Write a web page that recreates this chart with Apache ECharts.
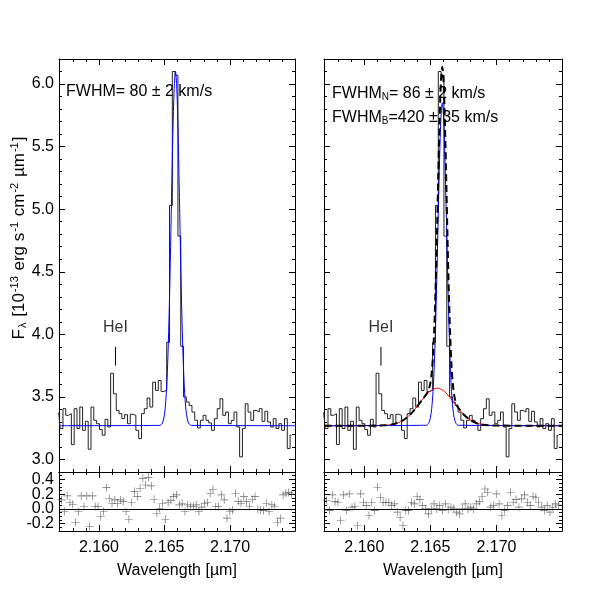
<!DOCTYPE html>
<html><head><meta charset="utf-8">
<script src="https://cdn.jsdelivr.net/npm/echarts@6/dist/echarts.min.js"></script>
<style>html,body{margin:0;padding:0;background:#fff}#c{width:591px;height:591px}</style>
</head><body><div id="c"></div>
<script>
// ---- data ----
const binStart = 2.15661;   // left edge of first spectral bin (µm)
const binStep = 0.000214;   // bin width (µm)
const flux = [3.385,3.371,3.247,3.406,3.353,3.366,3.119,3.406,3.247,3.419,3.233,3.305,3.082,3.419,3.313,3.286,3.239,3.194,3.321,3.260,3.689,
 3.525,3.392,3.366,3.326,3.358,3.286,3.361,3.353,3.233,3.167,3.366,3.406,3.491,3.419,3.618,3.552,3.631,3.544,3.552,3.936,
 5.03,6.10,6.07,4.785,3.905,3.50,
 3.459,3.432,3.379,3.313,3.252,3.313,3.353,3.313,3.292,3.233,3.326,3.406,3.485,3.353,3.379,3.286,3.313,3.379,3.260,3.021,3.247,3.445,3.379,3.313,3.392,3.379,3.406,3.305,3.385,3.300,3.260,3.326,3.247,3.286,3.233,3.326,3.088,3.194];
const residLeft = [0.10,0.112,0.122,-0.036,0.176,0.086,0.063,-0.185,-0.036,0.176,0.032,0.176,-0.239,0.176,0.032,0.032,-0.104,-0.036,0.288,0.144,0.077,0.122,0.077,0.122,0.099,-0.036,-0.14,0.086,0.234,0.167,0.279,0.414,0.324,0.428,0.311,0.131,-0.059,0.009,0.077,-0.14,0.086,0.112,0.167,0.189,0.054,0.077,-0.036,0.054,0.032,0.032,0.054,-0.036,0.023,0.077,0.086,0.212,0.266,0.032,0.032,0.189,0.122,-0.126,-0.036,-0.014,0.212,0.099,0.077,0.167,0.099,0.032,0.131,0.167,-0.005,-0.014,-0.023,0.077,-0.036,0.054,0.032,-0.185,-0.126,0.189,0.212,0.221,0.20];
const residRight = [0.12,0.135,0.113,-0.023,0.189,0.099,0.09,-0.158,0.189,-0.023,0.203,0.023,0.036,-0.225,0.203,0.09,0.045,-0.09,0.09,-0.023,0.293,0.158,0.09,0.09,0.09,0.045,0.068,-0.045,-0.113,-0.225,-0.023,-0.023,0.09,0.068,0.171,0.126,0.045,0,-0.068,0,0.068,0,0.045,-0.023,0.068,-0.009,0.023,0.009,-0.045,-0.068,0.009,0.068,0,0.023,0,0.068,0.099,0.171,0.27,0.225,0.023,0.045,0.203,0.068,-0.09,-0.023,0.045,0.225,0.09,0.126,0.023,0.135,0.189,0.09,0.045,0.171,0.158,0.09,0.023,-0.023,0.045,-0.045,0.023,0.068,0.05];
// fit curves (sampled)
const blueLeftX = [2.157,2.16464,2.16474,2.16484,2.16494,2.16504,2.16514,2.16524,2.16534,2.16544,2.16554,2.16564,2.16574,2.16584,2.16594,2.16604,2.16614,2.16624,2.16634,2.16644,2.16654,2.16664,2.16674,2.16684,2.16694,2.16704,2.175];
const blueLeftY = [3.27,3.2725,3.278,3.291,3.324,3.394,3.529,3.758,4.105,4.566,5.094,5.598,5.965,6.10,5.965,5.598,5.094,4.566,4.105,3.758,3.529,3.394,3.324,3.291,3.278,3.2725,3.27];
const blueRightX = [2.157,2.1647,2.1648,2.1649,2.1650,2.1651,2.1652,2.1653,2.1654,2.1655,2.1656,2.1657,2.1658,2.1659,2.1660,2.1661,2.1662,2.1663,2.1664,2.1665,2.1666,2.1667,2.1668,2.1669,2.1670,2.1671,2.175];
const blueRightY = [3.27,3.2735,3.280,3.296,3.333,3.407,3.542,3.764,4.089,4.508,4.977,5.417,5.734,5.85,5.734,5.417,4.977,4.508,4.089,3.764,3.542,3.407,3.333,3.296,3.280,3.2735,3.27];
const redX = [2.157,2.1610,2.1615,2.1620,2.1625,2.1630,2.1635,2.1640,2.1645,2.1650,2.1655,2.1660,2.1665,2.1670,2.1675,2.1680,2.1685,2.1690,2.1695,2.1700,2.175];
const redY = [3.27,3.2708,3.2726,3.278,3.2909,3.3172,3.3619,3.4242,3.4932,3.5486,3.57,3.5486,3.4932,3.4242,3.3619,3.3172,3.2909,3.278,3.2726,3.2708,3.27];
const totalX = [2.157,2.1610,2.1615,2.1620,2.1625,2.1630,2.1635,2.1640,2.1645,2.1647,2.1648,2.1649,2.1650,2.1651,2.1652,2.1653,2.1654,2.1655,2.1656,2.1657,2.1658,2.1659,2.1660,2.1661,2.1662,2.1663,2.1664,2.1665,2.1666,2.1667,2.1668,2.1669,2.1670,2.1671,2.1675,2.1680,2.1685,2.1690,2.1695,2.1700,2.175];
const totalY = [3.27,3.2708,3.2726,3.278,3.2909,3.3172,3.3619,3.4242,3.4932,3.5218,3.5395,3.5658,3.6112,3.6926,3.8341,4.0605,4.3881,4.808,5.276,5.7135,6.026,6.136,6.0126,5.6867,5.2365,4.7563,4.3251,3.9872,3.7517,3.6024,3.5146,3.4641,3.4342,3.4142,3.3619,3.3172,3.2909,3.278,3.2726,3.2708,3.27];
const xMajor = [2.160,2.165,2.170];
const xMinor = [2.157,2.158,2.159,2.161,2.162,2.163,2.164,2.166,2.167,2.168,2.169,2.171,2.172,2.173,2.174];
const yMajor = [3.0,3.5,4.0,4.5,5.0,5.5,6.0];
const yMinor = [2.9,3.1,3.2,3.3,3.4,3.6,3.7,3.8,3.9,4.1,4.2,4.3,4.4,4.6,4.7,4.8,4.9,5.1,5.2,5.3,5.4,5.6,5.7,5.8,5.9,6.1,6.2];
const rMajor = [-0.2,0.0,0.2,0.4];
const rLabelsA = [0.0,0.4];
const rLabelsB = [-0.2,0.2];
const rMinor = [-0.3,-0.25,-0.15,-0.1,-0.05,0.05,0.1,0.15,0.25,0.3,0.35,0.45,0.5];
const heLine = 2.16126;
const heLabelY = 4.05;
// ---- layout ----
const XMIN = 2.15695, XMAX = 2.17496;
const grids = [
  {left:59, top:59, width:236, height:413},
  {left:59, top:472, width:236, height:59},
  {left:324, top:59, width:238, height:413},
  {left:324, top:472, width:238, height:59}
];
const AX = '#000';
const font = 'Liberation Sans, Arial, sans-serif';
const lab = (show, vals, pad) => ({show:show, customValues:vals, formatter:v=>v.toFixed(1), fontSize:16, color:'#000', fontFamily:font, margin:5, hideOverlap:false, showMinLabel:true, showMaxLabel:true, padding:pad||0});
function xAxes(g, labels){
  const base = {type:'value', gridIndex:g, min:XMIN, max:XMAX, splitLine:{show:false}, axisLine:{show:false,onZero:false,lineStyle:{color:AX,width:1}}, axisLabel:{show:false}};
  return [
    Object.assign({}, base, {position:'bottom', axisLine:{show:true,onZero:false,lineStyle:{color:AX,width:1}},
      axisTick:{show:true,inside:true,length:6,customValues:xMajor,lineStyle:{color:AX}},
      axisLabel:{show:labels,customValues:xMajor,formatter:v=>v.toFixed(3),fontSize:16,color:'#000',fontFamily:font,margin:9},
      name: labels?'Wavelength [µm]':'', nameLocation:'middle', nameGap:32, nameTextStyle:{fontSize:16,color:'#000',fontFamily:font}}),
    Object.assign({}, base, {position:'bottom', axisTick:{show:true,inside:true,length:3,customValues:xMinor,lineStyle:{color:AX}}}),
    Object.assign({}, base, {position:'top', axisLine:{show:true,onZero:false,lineStyle:{color:AX,width:1}}, axisTick:{show:true,inside:true,length:6,customValues:xMajor,lineStyle:{color:AX}}}),
    Object.assign({}, base, {position:'top', axisTick:{show:true,inside:true,length:3,customValues:xMinor,lineStyle:{color:AX}}})
  ];
}
function yAxes(g, main, labels){
  const mn = main?2.9:-0.3, mx = main?6.2:0.5;
  const maj = main?yMajor:rMajor, mnr = main?yMinor:rMinor;
  const base = {type:'value', gridIndex:g, min:mn, max:mx, splitLine:{show:false}, axisLine:{show:false,onZero:false,lineStyle:{color:AX,width:1}}, axisLabel:{show:false}};
  return [
    Object.assign({}, base, {position:'left', axisLine:{show:true,onZero:false,lineStyle:{color:AX,width:1}},
      axisTick:{show:true,inside:true,length:6,customValues:maj,lineStyle:{color:AX}},
      axisLabel:lab(labels, main?yMajor:rLabelsA, main?0:[0,0,5,0])}),
    Object.assign({}, base, {position:'left', axisTick:{show:true,inside:true,length:3,customValues:mnr,lineStyle:{color:AX}},
      axisLabel:lab(labels && !main, rLabelsB, [0,0,5,0])}),
    Object.assign({}, base, {position:'right', axisLine:{show:true,onZero:false,lineStyle:{color:AX,width:1}}, axisTick:{show:true,inside:true,length:6,customValues:maj,lineStyle:{color:AX}}}),
    Object.assign({}, base, {position:'right', axisTick:{show:true,inside:true,length:3,customValues:mnr,lineStyle:{color:AX}}})
  ];
}
const xAxis = [].concat(xAxes(0,false), xAxes(1,true), xAxes(2,false), xAxes(3,true));
const yAxis = [].concat(yAxes(0,true,true), yAxes(1,false,true), yAxes(2,true,false), yAxes(3,false,false));
const centers = flux.map((_,i)=>binStart + binStep*(i+0.5));
const spec = flux.map((v,i)=>[centers[i], v]);
const pair = (xs,ys)=>xs.map((x,i)=>[x,ys[i]]);
const plus = 'path://M0,4.6L10,4.6L10,5.4L0,5.4Z M4.6,0L5.4,0L5.4,10L4.6,10Z';
function stepSeries(g){ return {type:'line', xAxisIndex:4*g, yAxisIndex:4*g, data:spec, step:'middle', showSymbol:false, symbol:'none', lineStyle:{color:'#222',width:1}, clip:true, z:3, silent:true}; }
function lineSeries(g, data, color, w, type, z){ return {type:'line', xAxisIndex:4*g, yAxisIndex:4*g, data:data, smooth:0.3, symbol:'none', lineStyle:{color:color,width:w,type:type}, clip:true, z:z, silent:true}; }
function residSeries(g, vals){
  return {type:'scatter', xAxisIndex:4*g, yAxisIndex:4*g, data:vals.map((v,i)=>[centers[i],v]), symbol:plus, symbolSize:8, itemStyle:{color:'#444'}, clip:true, silent:true,
    markLine:{silent:true, symbol:'none', label:{show:false}, lineStyle:{color:'#000',width:1,type:'solid'}, data:[{yAxis:0}]}};
}
const heMark = (g)=>({type:'line', xAxisIndex:4*g, yAxisIndex:4*g, data:[[heLine,3.75],[heLine,3.9]], symbol:'none', lineStyle:{color:'#000',width:1}, silent:true});
const heText = (g)=>({type:'scatter', xAxisIndex:4*g, yAxisIndex:4*g, data:[[heLine,heLabelY]], symbolSize:1, itemStyle:{color:'rgba(0,0,0,0)'}, silent:true,
  label:{show:true, formatter:'HeI', position:'inside', fontSize:16, color:'#000', fontFamily:font}});
const series = [
  stepSeries(0), lineSeries(0, pair(blueLeftX,blueLeftY), '#0000ff', 1, 'solid', 4), residSeries(1, residLeft), heMark(0), heText(0),
  stepSeries(2), lineSeries(2, pair(redX,redY), '#ff0000', 1, 'solid', 4), lineSeries(2, pair(blueRightX,blueRightY), '#0000ff', 1, 'solid', 4),
  lineSeries(2, pair(totalX,totalY), '#000', 2, [7,4], 5), residSeries(3, residRight), heMark(2), heText(2)
];
const chart = echarts.init(document.getElementById('c'), null, {renderer:'canvas'});
chart.setOption({
  animation:false, backgroundColor:'#fff', grid:grids, xAxis:xAxis, yAxis:yAxis, series:series,
  graphic:[
    {type:'text', left:66, top:84, style:{text:'FWHM= 80 ± 2 km/s', fontSize:16, fontFamily:font, fill:'#000'}},
    {type:'text', left:332, top:86, style:{text:'{n|FWHM}{s|N}{n|= 86 ± 2 km/s}', fontSize:16, fontFamily:font, fill:'#000',
      rich:{n:{fontSize:16,fontFamily:font,color:'#000'}, s:{fontSize:10,fontFamily:font,color:'#000',verticalAlign:'bottom',padding:[6,0,0,0]}}}},
    {type:'text', left:332, top:110, style:{text:'{n|FWHM}{s|B}{n|=420 ± 35 km/s}', fontSize:16, fontFamily:font, fill:'#000',
      rich:{n:{fontSize:16,fontFamily:font,color:'#000'}, s:{fontSize:10,fontFamily:font,color:'#000',verticalAlign:'bottom',padding:[6,0,0,0]}}}},
    {type:'text', x:19, y:238, rotation:Math.PI/2, style:{text:'{n|F}{sb|λ}{n| [10}{sp|-13}{n| erg s}{sp|-1}{n| cm}{sp|-2}{n| µm}{sp|-1}{n|]}', align:'center', verticalAlign:'middle', fontSize:17, fontFamily:font, fill:'#000',
      rich:{n:{fontSize:17,fontFamily:font,color:'#000'}, sp:{fontSize:11,fontFamily:font,color:'#000',padding:[0,1,9,1]}, sb:{fontSize:11,fontFamily:font,color:'#000',padding:[7,1,0,1]}}}}
  ]
});
</script></body></html>
